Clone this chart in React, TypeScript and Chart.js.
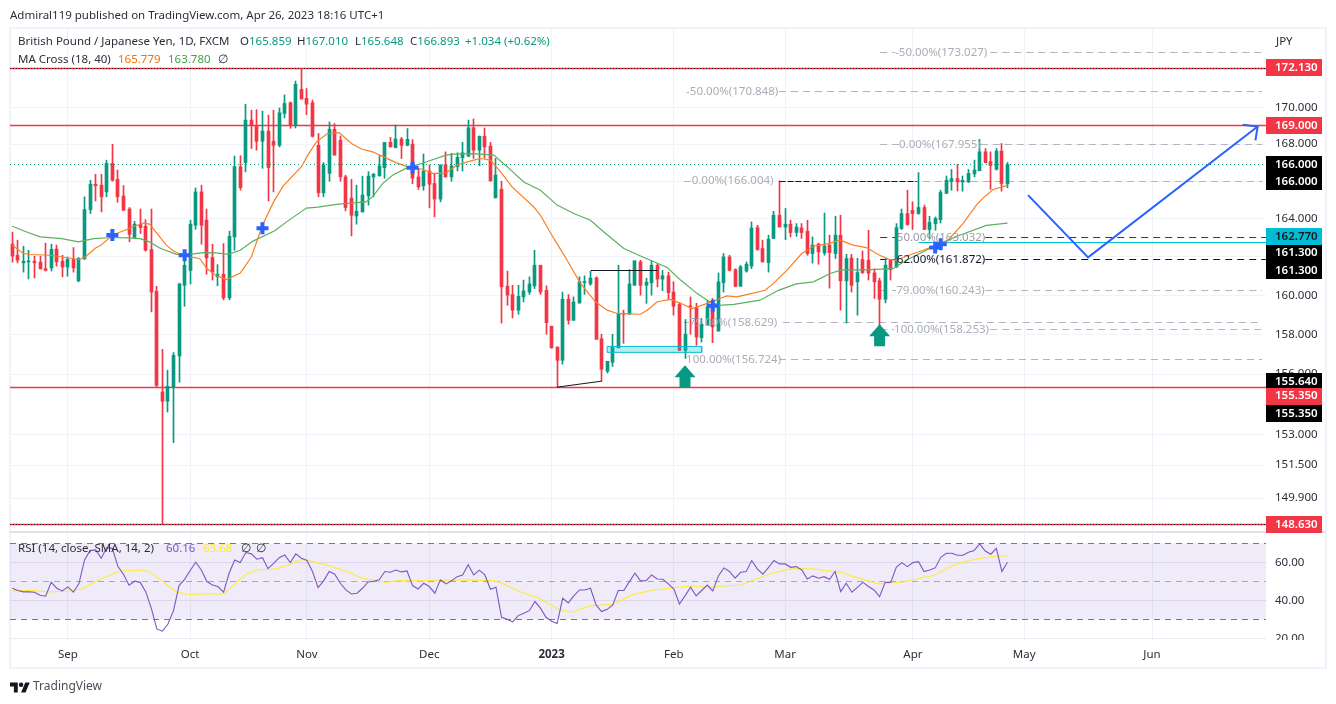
import React, { useEffect, useRef } from "react";
import { Chart, registerables } from "chart.js";

Chart.register(...registerables);

const opens = [162.67,162.09,161.69,161.74,161.78,161.73,161.39,161.43,162.41,161.78,161.48,161.87,160.76,161.90,164.49,165.84,165.79,165.43,166.95,166.10,165.21,164.52,163.02,163.72,163.61,162.39,160.22,155.11,154.65,155.35,156.92,160.53,161.30,163.66,165.43,163.93,161.97,160.97,161.10,159.88,163.05,166.78,167.00,169.30,169.00,168.15,168.70,168.15,167.93,169.66,170.25,169.03,170.98,170.49,170.25,167.93,165.38,166.42,168.80,168.20,166.23,165.10,164.15,164.37,165.22,166.23,166.29,166.72,168.09,167.81,168.27,167.93,167.99,166.23,165.75,166.54,165.88,165.05,166.87,166.23,166.78,167.26,167.35,168.88,167.67,168.42,167.89,165.12,165.57,160.48,160.05,159.25,159.93,160.18,160.50,161.57,160.27,158.43,157.37,156.70,159.81,158.73,159.62,160.67,160.60,160.91,157.79,156.15,156.60,157.33,159.09,159.04,160.53,161.74,160.53,160.66,161.57,160.85,161.02,160.18,159.54,157.20,159.45,159.37,157.85,158.48,159.42,158.18,160.66,162.00,161.34,160.48,161.27,161.53,163.54,162.44,161.71,162.97,164.19,163.57,163.72,163.28,163.52,163.35,162.18,162.67,162.21,162.62,162.18,163.14,160.76,161.95,160.71,161.87,161.83,161.17,160.76,159.81,161.83,161.48,163.49,164.28,164.45,164.28,164.60,163.44,163.75,163.96,165.35,166.00,166.14,165.96,165.96,166.39,166.56,167.58,167.05,166.64,167.62,165.859];
const highs = [163.30,162.88,162.56,162.35,162.04,162.04,162.72,162.67,162.62,162.09,162.00,162.49,161.97,165.17,166.05,166.37,166.37,167.13,167.99,166.60,165.77,164.60,163.87,164.52,163.96,164.52,160.48,157.25,156.20,157.09,160.64,161.78,163.93,165.64,165.79,164.52,162.67,161.60,162.70,163.35,167.35,167.37,170.17,169.84,169.87,169.79,169.57,169.84,169.96,170.68,170.29,171.44,172.13,171.03,170.40,168.57,167.00,169.20,169.11,168.44,166.32,166.10,165.79,166.27,166.51,166.42,167.37,168.09,168.36,169.03,168.36,168.84,168.24,166.69,167.46,166.87,166.42,166.87,167.58,167.50,167.53,168.09,169.30,169.36,168.44,168.87,168.09,167.22,166.00,161.26,160.53,160.53,160.80,160.97,162.35,161.57,160.50,158.43,157.37,160.18,160.05,159.93,160.97,161.02,161.25,160.97,158.02,156.65,158.02,161.57,159.25,161.34,161.80,161.83,160.90,161.80,161.67,161.30,161.21,160.71,159.64,158.77,159.93,159.60,158.82,159.76,159.85,161.17,162.18,162.09,161.39,161.57,161.74,163.84,163.66,162.88,163.14,164.40,166.02,164.55,163.93,163.75,163.75,163.93,163.05,162.73,164.31,163.14,164.14,164.19,162.14,162.14,161.93,162.31,163.40,161.39,160.90,161.92,161.83,163.75,164.52,165.52,164.91,166.46,164.73,164.14,164.10,165.52,166.28,166.63,166.90,166.28,166.63,167.13,168.25,167.76,167.58,167.76,168.03,167.01];
const lows = [161.73,161.69,161.21,160.86,160.91,161.37,161.27,161.27,161.52,160.97,161.00,161.21,160.71,161.87,164.28,164.95,164.37,165.17,166.00,164.88,164.45,162.79,162.96,163.23,162.31,159.16,155.35,148.63,154.11,152.60,155.60,159.45,160.60,163.45,162.67,161.10,160.80,160.50,159.78,159.78,162.35,165.52,166.50,167.76,167.67,166.69,164.95,165.43,167.84,169.42,168.85,168.87,170.45,169.60,168.38,165.17,165.17,166.00,167.40,166.00,164.42,163.10,163.72,164.35,164.73,165.17,166.27,166.16,167.83,167.79,167.22,167.90,165.87,165.56,165.52,164.58,164.10,164.90,166.22,166.00,166.55,166.55,167.31,167.22,166.83,167.24,166.00,165.10,158.59,159.50,158.85,159.04,159.67,160.06,160.36,160.06,158.02,157.31,155.35,156.50,158.53,158.73,159.60,160.06,160.53,157.76,155.65,156.06,156.39,157.33,157.56,159.04,160.53,160.02,159.60,160.02,160.45,160.25,159.80,158.99,157.20,156.79,158.02,157.46,157.62,158.48,157.59,158.18,160.18,161.27,160.45,160.48,161.21,161.39,162.35,161.74,161.21,162.97,163.57,162.91,163.05,163.08,162.97,162.09,161.68,161.62,162.09,160.38,161.92,159.25,158.59,160.18,158.99,161.14,160.80,159.85,158.25,159.62,160.80,161.45,163.44,163.66,163.44,164.24,163.44,162.96,163.40,163.78,165.35,165.52,165.48,165.47,165.93,166.23,166.56,166.97,165.57,166.60,165.47,165.648];
const closes = [162.05,161.83,161.78,161.78,161.69,161.38,161.30,162.39,161.74,161.48,161.88,161.43,161.92,164.49,165.84,165.75,165.17,166.95,166.05,165.17,164.45,163.18,163.72,163.54,162.35,160.18,155.44,154.65,155.39,156.95,160.60,161.57,163.72,165.43,163.66,161.95,161.21,161.10,159.88,163.08,166.78,165.66,169.30,169.00,168.15,168.70,166.73,167.93,169.70,170.21,169.03,171.26,170.45,170.17,168.42,165.38,166.87,168.80,167.40,166.23,164.60,164.19,164.40,165.26,166.27,166.37,166.82,168.09,167.85,168.27,167.93,168.25,166.17,165.70,166.54,165.84,165.05,166.87,166.23,166.82,167.28,167.53,168.88,167.67,168.42,167.85,166.02,166.33,160.45,160.02,159.25,159.96,160.24,160.60,161.57,160.18,158.61,157.33,156.70,159.81,158.73,159.67,160.71,160.71,160.90,157.76,156.25,156.65,157.37,159.09,159.04,160.60,161.80,160.53,160.69,161.57,160.85,161.02,160.15,159.45,157.20,158.02,159.42,157.88,158.53,159.42,158.39,160.71,162.00,161.30,160.48,161.48,161.62,163.52,162.39,161.74,162.93,164.19,163.57,163.72,163.28,163.57,163.28,162.18,162.62,162.26,162.57,162.23,163.14,160.76,161.92,160.53,161.19,161.19,161.16,160.71,159.81,161.57,161.34,163.54,164.28,163.70,164.28,164.60,163.44,163.81,164.02,165.40,166.05,166.14,165.96,166.05,166.42,166.60,167.58,167.00,166.84,167.62,165.88,166.893];

const maFastIdx = [0,2,3,7,9,12,13,15,16,18,21,23.5,24.7,27.7,29,31,33.7,35,36.7,38.5,41,43,45,47,48.7,52,53,54.7,56.7,58.8,61,62.8,64.8,67,69,71.5,73.8,75.6,76.8,78,80,83,84.2,86,87.8,89.9,93.8,95,97.4,99.8,102.2,104.9,107,108.8,113,114.2,116,118.4,120.2,122.3,125,127.3,128.5,130.3,132.1,135.4,136.9,139.3,142,144.1,146.8,148.9,149.4,151.2,153.6,156,157.8,159,160.8,163.8,166.2,168,171,173.4,174.6,176.4,179];
const maFastVal = [162.62,162.18,162.13,162.09,162,161.87,161.97,162.47,162.62,163.14,163.49,163.78,163.72,162.62,162.31,162.04,161.92,161.4,161.04,160.83,161.16,162,163.66,164.9,165.74,166.78,167.32,168.12,168.57,168.62,168.03,167.73,167.58,167.28,167,166.73,166.64,166.42,166.42,166.45,166.87,167.13,167.22,167.13,166.51,165.7,164.63,164.19,162.97,161.83,160.63,159.68,159.25,159.08,159.04,159.25,159.68,159.8,159.6,159.33,159.6,159.85,159.98,159.93,160.05,160.27,160.63,161.3,162.18,162.56,162.7,162.88,162.83,162.62,162.49,162.09,161.87,161.83,162.04,162.35,162.62,162.79,163.75,164.73,165.1,165.56,165.779];
const maSlowIdx = [0,2.6,5,8.9,11.9,14.6,17.9,20.8,23,24.7,26.5,29.5,31.9,34.3,36.7,38.8,41,43.3,47.2,49.9,52.9,55,58.3,63.6,64.8,66.6,68.4,70.8,74.4,78,79.4,83,86.6,89,92,95,98,101,104,106.4,110,113,117.8,120.2,123.2,125,127,129.8,134.5,137.8,141,144.1,147.1,148.9,149.4,153.6,158.4,160.8,164.4,166.8,170.4,175.2,179];
const maSlowVal = [163.61,163.31,163.05,162.96,162.79,162.96,163.02,163,162.96,162.79,162.47,162.14,162.14,162.23,162.21,162.14,162.35,162.83,163.37,163.96,164.57,164.62,164.77,164.9,165.17,165.87,166.32,166.69,167.03,167.4,167.45,167.48,167.4,166.78,165.96,165.52,164.73,164.28,163.93,163.31,162.44,162.05,161.45,160.8,160.1,159.76,159.5,159.55,159.76,160.27,160.6,160.71,161.14,161.3,161.33,161.33,161.39,161.83,162.35,162.7,163.14,163.66,163.78];

const rsi = [46.5,45.3,44.6,44.6,44.4,42.8,42.3,49.6,46.5,45.1,47.2,44.4,49.1,61.4,66.3,66.7,62.3,67.9,67.5,57.9,53.9,48.1,50.2,49.6,44.7,36,25.1,23.9,27.7,34.7,47.9,51.2,55.8,60.2,56.1,50,48.2,47.4,44.4,54.4,61.4,60,65.3,64.6,61.8,62.6,56.8,59.6,62.6,64,60,64.6,62.3,61.1,55.3,46.8,50.4,55.3,53.9,49.1,45.6,43.5,43.9,46.5,49.8,50.2,50.9,55.3,54.9,56.1,55.1,55.6,47.9,46.1,49.1,47.4,43.9,50.9,48.8,50.4,52.6,53.5,58.9,53.5,56,53.5,46,47,31.2,30.2,28.8,32.1,33.3,34.7,39.5,36,31.2,29.1,27.9,41.2,38.8,42.5,45.6,45.6,46.5,37.7,34.2,35.4,37.7,45.3,45.3,50,54.4,50.4,50.5,53.5,51.4,51.2,48.8,46.1,38.2,42.5,47,42.5,45.3,48.2,45.1,53,57.2,55.3,51.8,54.9,55.3,61.1,56.7,53.9,57.4,61.1,59.3,59.3,57.5,57.9,56.1,51.4,53,51.8,52.6,51.2,55.3,44.7,49.1,44.4,47,49.6,47.4,45.6,42.1,49.6,49.6,57.5,60,57.9,60,60.5,55.3,56.1,57.2,62.8,64.9,64.9,63.9,63.9,65.4,66.3,69.8,66.1,64.4,67.5,55.3,60.16];
const rsiSmaIdx = [0,3.8,6.2,9.8,12.5,15.8,19.4,22.9,24.7,27.1,29.5,31.6,34.9,37.9,39.7,42.1,43.9,47.5,49.9,52.3,54,56.5,60.1,63,67.2,69.6,73.2,76.8,81.6,86.4,87.7,91.4,94.8,98.2,100.7,103.9,108.1,111.5,115.3,118.7,122.1,124.9,131,134.1,136.6,140.3,144,149.6,150.9,155.8,160.1,162.6,166,169.4,172.5,176.2,179];
const rsiSmaVal = [45.1,45.3,44.6,44.9,46.1,51.2,55.6,56.1,55.3,50,44.7,43.2,43.5,43.5,47.9,54,56.1,56.7,59.1,61.8,60.5,58.8,55.3,51.8,49.6,50.5,50.4,50.7,50.9,50.5,49.6,44.7,41.2,35.4,33.9,37.2,38.1,43,45.6,46.7,47.7,47,48.2,51.6,54.4,56.8,56.7,54.7,53,48.8,49.8,51.4,53.5,58.8,61.4,63.2,63.68];

const monthIdx = [10,32,53,75,97,119,139,162,182,205];
const monthLabels = ["Sep","Oct","Nov","Dec","2023","Feb","Mar","Apr","May","Jun"];
const priceTicks = [170,168,166,164,162,160,158,156,153,151.5,149.9];
const rsiTicks = [60,40,20];

const redLevels = [172.13,169,155.35,148.63];
const dottedLevels = [172.13,148.63];
const lastClose = 166.893;
const crossIdx = [18,31,45,72,126,166,167];
const crossVal = [163.15,162.09,163.5,166.72,159.48,162.5,162.67];
const arrowIdx = [121,156];
const arrowVal = [156.45,158.53];

const fibLabels = ["-50.00%(173.027)","-50.00%(170.848)","0.00%(167.955)","0.00%(166.004)","50.00%(163.032)","62.00%(161.872)","79.00%(160.243)","100.00%(158.253)","79.00%(158.629)","100.00%(156.724)"];
const fibVals = [173.027,170.848,167.955,166.004,163.032,161.872,160.243,158.253,158.629,156.724];
const fibStart = [156.1,121.2,156.1,120.8,156.1,156.1,156.1,156.1,120.8,121.2];
const fibTextL = [158.8,121.2,159.5,122.2,159.1,159.1,159,158.6,121.7,121.2];
const fibTextR = [175.9,137.9,174.2,137.9,175,175,175,175.9,138.6,137.9];
const fibEnd = [224.8,224.8,224.8,224.8,225.5,225.5,224.8,224.8,224.8,224.8];
const fibColors = ["#b2b5be","#b2b5be","#b2b5be","#b2b5be","#801922","#131722","#b2b5be","#b2b5be","#b2b5be","#b2b5be"];
const fibTextColors = ["#aaadb7","#aaadb7","#aaadb7","#aaadb7","#9a9ca5","#131722","#aaadb7","#aaadb7","#aaadb7","#aaadb7"];

const tagTexts = ["172.130","169.000","166.000","166.000","162.770","161.300","161.300","155.640","155.350","155.350","148.630"];
const tagAt = [172.17,169,166.893,166,163.06,162.2,161.3,155.64,154.9,154.03,148.63];
const tagBg = ["#f23645","#f23645","#000000","#000000","#00bcd4","#000000","#000000","#000000","#f23645","#000000","#f23645"];
const tagFg = ["#fff","#fff","#fff","#fff","#131722","#fff","#fff","#fff","#fff","#fff","#fff"];

const blueIdx = [182.7,193.5,224];
const blueVal = [165.26,161.98,168.95];
const blueBarbIdx = [221.3,224,223.6];
const blueBarbVal = [169.05,168.95,168.2];

const UP = "#089981", DOWN = "#f23645";
const FONT = '"Noto Sans"';
const X_MIN = -0.41, X_MAX = 225.5;

const line = (data: any[], extra: any) => ({
  type: "line", data, pointRadius: 0, borderWidth: 1, tension: 0, yAxisID: "yMain", ...extra,
});

function buildDatasets() {
  const ds: any[] = [];
  const full = (v: number) => [{ x: X_MIN, y: v }, { x: X_MAX, y: v }];
  redLevels.forEach((v) => ds.push(line(full(v), { borderColor: "#f23645", borderWidth: v === 169 ? 1.6 : 1.3, order: 40, snapY: true })));
  dottedLevels.forEach((v) => ds.push(line(full(v), { borderColor: "#131722", borderDash: [1, 2], order: 39, snapY: true })));
  ds.push(line(full(lastClose), { borderColor: UP, borderDash: [1, 3], order: 38, snapY: true }));
  fibVals.forEach((v, i) => {
    ds.push(line(
      [{ x: fibStart[i], y: v }, { x: fibTextL[i], y: v }, { x: fibTextL[i], y: null }, { x: fibTextR[i], y: null }, { x: fibTextR[i], y: v }, { x: fibEnd[i], y: v }],
      { borderColor: fibColors[i], borderDash: [7, 5], order: 37, snapY: true },
    ));
  });
  ds.push(line([{ x: 163, y: 162.77 }, { x: X_MAX, y: 162.77 }], { borderColor: "#00bcd4", order: 36, snapY: true }));
  ds.push({
    type: "bar", data: lows.map((l, i) => ({ x: i, y: [l, highs[i]] })),
    backgroundColor: closes.map((c, i) => (c >= opens[i] ? UP : DOWN)),
    barThickness: 1, grouped: false, yAxisID: "yMain", order: 21, minBarLength: 1,
  });
  ds.push({
    type: "bar", data: opens.map((o, i) => ({ x: i, y: [o, closes[i]] })),
    backgroundColor: closes.map((c, i) => (c >= opens[i] ? UP : DOWN)),
    barThickness: 3, grouped: false, yAxisID: "yMain", order: 20, minBarLength: 1,
  });
  ds.push(line(maSlowIdx.map((x, i) => ({ x, y: maSlowVal[i] })), { borderColor: "#5cb060", order: 12, borderWidth: 1.2 }));
  ds.push(line(maFastIdx.map((x, i) => ({ x, y: maFastVal[i] })), { borderColor: "#fb7f22", order: 11, borderWidth: 1.2 }));
  ds.push(line([{ x: 98, y: 155.35 }, { x: 106, y: 155.65 }], { borderColor: "#131722", order: 9 }));
  ds.push(line([{ x: 104, y: 161.3 }, { x: 116, y: 161.3 }], { borderColor: "#131722", order: 9, snapY: true }));
  ds.push(line([{ x: 138, y: 166 }, { x: 162.7, y: 166 }], { borderColor: "#131722", borderDash: [6, 2], order: 9, snapY: true }));
  ds.push(line(
    [{ x: 107, y: 157.4 }, { x: 124, y: 157.4 }, { x: 124, y: 157.1 }, { x: 107, y: 157.1 }, { x: 107, y: 157.4 }],
    { borderColor: "#00bcd4", backgroundColor: "rgba(0,188,212,0.28)", fill: "shape", order: 8 },
  ));
  ds.push(line(crossIdx.map((x, i) => ({ x, y: crossVal[i] })), {
    showLine: false, pointStyle: "cross", pointRadius: 6, pointBorderWidth: 4, pointBorderColor: "#2962ff", order: 4,
  }));
  ds.push(line(blueIdx.map((x, i) => ({ x, y: blueVal[i] })), { borderColor: "#2962ff", borderWidth: 2, order: 3 }));
  ds.push(line(blueBarbIdx.map((x, i) => ({ x, y: blueBarbVal[i] })), { borderColor: "#2962ff", borderWidth: 2, order: 3 }));

  ds.push({
    type: "line", yAxisID: "yRsi", data: [{ x: X_MIN, y: 70 }, { x: X_MAX, y: 70 }], pointRadius: 0,
    borderColor: "#787b86", borderWidth: 1, borderDash: [6, 5], fill: { value: 30 },
    backgroundColor: "rgba(126,87,194,0.12)", order: 60, snapY: true,
  });
  ds.push({ type: "line", yAxisID: "yRsi", data: [{ x: X_MIN, y: 50 }, { x: X_MAX, y: 50 }], pointRadius: 0, borderColor: "rgba(120,123,134,0.6)", borderWidth: 1, borderDash: [6, 5], order: 59, snapY: true });
  ds.push({ type: "line", yAxisID: "yRsi", data: [{ x: X_MIN, y: 30 }, { x: X_MAX, y: 30 }], pointRadius: 0, borderColor: "#787b86", borderWidth: 1, borderDash: [6, 5], order: 59, snapY: true });
  ds.push({ type: "line", yAxisID: "yRsi", data: rsiSmaIdx.map((x, i) => ({ x, y: rsiSmaVal[i] })), pointRadius: 0, borderColor: "#ffeb3b", borderWidth: 1.1, tension: 0, order: 31 });
  ds.push({ type: "line", yAxisID: "yRsi", data: rsi.map((y, x) => ({ x, y })), pointRadius: 0, borderColor: "#7e57c2", borderWidth: 1.1, tension: 0, order: 30 });
  return ds;
}

const snapMarks = {
  id: "snapMarks",
  afterDatasetsUpdate(chart: any) {
    chart.getSortedVisibleDatasetMetas().forEach((m: any) => {
      if (m.type === "bar") {
        m.data.forEach((el: any) => { el.x = Math.floor(el.x) + 0.5; });
      } else if (chart.data.datasets[m.index].snapY) {
        m.data.forEach((p: any) => { if (Number.isFinite(p.y)) p.y = Math.floor(p.y) + 0.5; });
      }
    });
  },
};

const overlays = {
  id: "overlays",
  beforeDraw(chart: any) {
    const c = chart.ctx;
    c.save();
    c.strokeStyle = "#f0f3fa";
    c.lineWidth = 2;
    c.strokeRect(10, 28, 1316, 640);
    c.restore();
  },
  afterDatasetsDraw(chart: any) {
    const c = chart.ctx, xs = chart.scales.x, ys = chart.scales.yMain;
    c.save();
    c.font = `11.5px ${FONT}`;
    c.textBaseline = "middle";
    c.textAlign = "left";
    fibLabels.forEach((t, i) => {
      c.fillStyle = fibTextColors[i];
      c.fillText(t, xs.getPixelForValue(fibTextL[i]), ys.getPixelForValue(fibVals[i]));
    });
    c.fillStyle = UP;
    arrowIdx.forEach((a, i) => {
      const x = xs.getPixelForValue(a), y = ys.getPixelForValue(arrowVal[i]);
      c.beginPath();
      c.moveTo(x, y);
      c.lineTo(x + 10.5, y + 12);
      c.lineTo(x + 5.5, y + 12);
      c.lineTo(x + 5.5, y + 22);
      c.lineTo(x - 5.5, y + 22);
      c.lineTo(x - 5.5, y + 12);
      c.lineTo(x - 10.5, y + 12);
      c.closePath();
      c.fill();
    });
    c.restore();
  },
  afterDraw(chart: any) {
    const c = chart.ctx, ys = chart.scales.yMain, area = chart.chartArea;
    c.save();
    c.fillStyle = "#ffffff";
    c.fillRect(area.right + 1, 640, 58, 8);
    c.fillStyle = "#e0e3eb";
    c.fillRect(10, 531, 1316, 2);
    c.textBaseline = "middle";
    c.textAlign = "left";
    tagTexts.forEach((t, i) => {
      const y = ys.getPixelForValue(tagAt[i]);
      c.fillStyle = tagBg[i];
      c.fillRect(area.right, Math.round(y - 8.5), 56, 17);
      c.fillStyle = tagFg[i];
      c.font = `600 11.5px ${FONT}`;
      c.fillText(t, area.right + 9, y);
    });
    c.restore();
  },
};

const fix60 = (s: any) => { s.width = 60; };

const Txt = ({ x, y, color, size = 11.5, children }: any) => (
  <div style={{ position: "absolute", left: x, top: y - 9, height: 18, lineHeight: "18px", whiteSpace: "pre", color: color || "#2a2e39", fontFamily: FONT, fontSize: size }}>{children}</div>
);

export default function App() {
  const ref = useRef<HTMLCanvasElement>(null);
  useEffect(() => {
    if (!ref.current) return;
    const chart = new Chart(ref.current, {
      type: "bar",
      data: { datasets: buildDatasets() },
      plugins: [snapMarks, overlays],
      options: {
        animation: false,
        responsive: false,
        devicePixelRatio: 1,
        events: [],
        layout: { padding: { left: 10, right: 10, top: 29, bottom: 36 } },
        plugins: { legend: { display: false }, tooltip: { enabled: false } },
        scales: {
          x: {
            type: "linear", min: X_MIN, max: X_MAX, offset: false,
            grid: { color: "#f0f3fa", drawTicks: false, offset: false },
            border: { display: false },
            afterBuildTicks: (s: any) => { s.ticks = monthIdx.map((value) => ({ value })); },
            afterFit: (s: any) => { s.height = 28; },
            ticks: {
              autoSkip: false, maxRotation: 0, padding: 8, color: "#2a2e39",
              font: (ctx: any) => ({ family: FONT, size: 11.5, weight: ctx.tick && ctx.tick.value === 97 ? "bold" : "normal" }),
              callback: (v: any) => monthLabels[monthIdx.indexOf(v)] ?? "",
            },
          },
          yMain: {
            type: "logarithmic", position: "right", stack: "panes", stackWeight: 503,
            min: 148.27, max: 174.34, bounds: "data", beginAtZero: false,
            grid: { color: "#f0f3fa", drawTicks: false },
            border: { display: false },
            afterBuildTicks: (s: any) => { s.ticks = priceTicks.map((value) => ({ value })); },
            afterFit: fix60,
            ticks: {
              autoSkip: false, padding: 9, color: "#2a2e39", font: { family: FONT, size: 11.5 },
              callback: (v: any) => Number(v).toFixed(3),
            },
          },
          yRsi: {
            type: "linear", position: "right", stack: "panes", stackWeight: 108,
            min: 19.26, max: 76.1, bounds: "data", beginAtZero: false,
            grid: { color: "#ebe9f3", drawTicks: false },
            border: { display: false },
            afterBuildTicks: (s: any) => { s.ticks = rsiTicks.map((value) => ({ value })); },
            afterFit: fix60,
            ticks: {
              autoSkip: false, padding: 9, color: "#2a2e39", font: { family: FONT, size: 11.5 },
              callback: (v: any) => Number(v).toFixed(2),
            },
          },
        },
      },
    } as any);
    return () => chart.destroy();
  }, []);
  return (
    <div style={{ position: "absolute", left: 0, top: 0, width: 1336, height: 704, overflow: "hidden", background: "#fff" }}>
      <canvas ref={ref} width={1336} height={704} style={{ position: "absolute", left: 0, top: 0, display: "block" }} />
      <Txt x={10} y={15}>Admiral119 published on TradingView.com, Apr 26, 2023 18:16 UTC+1</Txt>
      <Txt x={18} y={41}>British Pound / Japanese Yen, 1D, FXCM</Txt>
      <Txt x={240} y={41}>O<span style={{ color: UP }}>165.859</span></Txt>
      <Txt x={297} y={41}>H<span style={{ color: UP }}>167.010</span></Txt>
      <Txt x={355} y={41}>L<span style={{ color: UP }}>165.648</span></Txt>
      <Txt x={410} y={41}>C<span style={{ color: UP }}>166.893</span></Txt>
      <Txt x={465} y={41} color={UP}>+1.034 (+0.62%)</Txt>
      <Txt x={18} y={59}>MA Cross (18, 40)</Txt>
      <Txt x={118} y={59} color="#ff6d00">165.779</Txt>
      <Txt x={168} y={59} color="#43a047">163.780</Txt>
      <Txt x={218} y={59}>∅</Txt>
      <Txt x={1276} y={41}>JPY</Txt>
      <Txt x={18} y={548}>RSI (14, close, SMA, 14, 2)</Txt>
      <Txt x={166} y={548} color="#7e57c2">60.16</Txt>
      <Txt x={203} y={548} color="#ffeb3b">63.68</Txt>
      <Txt x={241} y={548}>∅</Txt>
      <Txt x={256} y={548}>∅</Txt>
      <svg style={{ position: "absolute", left: 10, top: 680 }} width="20" height="14" viewBox="0 0 36 24">
        <path d="M14 22H7V11H0V4h14v18zM28 22h-8l7.5-18h8L28 22z" fill="#131722" />
        <circle cx="20" cy="8" r="4" fill="#131722" />
      </svg>
      <Txt x={33} y={686} size={12} color="#4a4e59">TradingView</Txt>
    </div>
  );
}
